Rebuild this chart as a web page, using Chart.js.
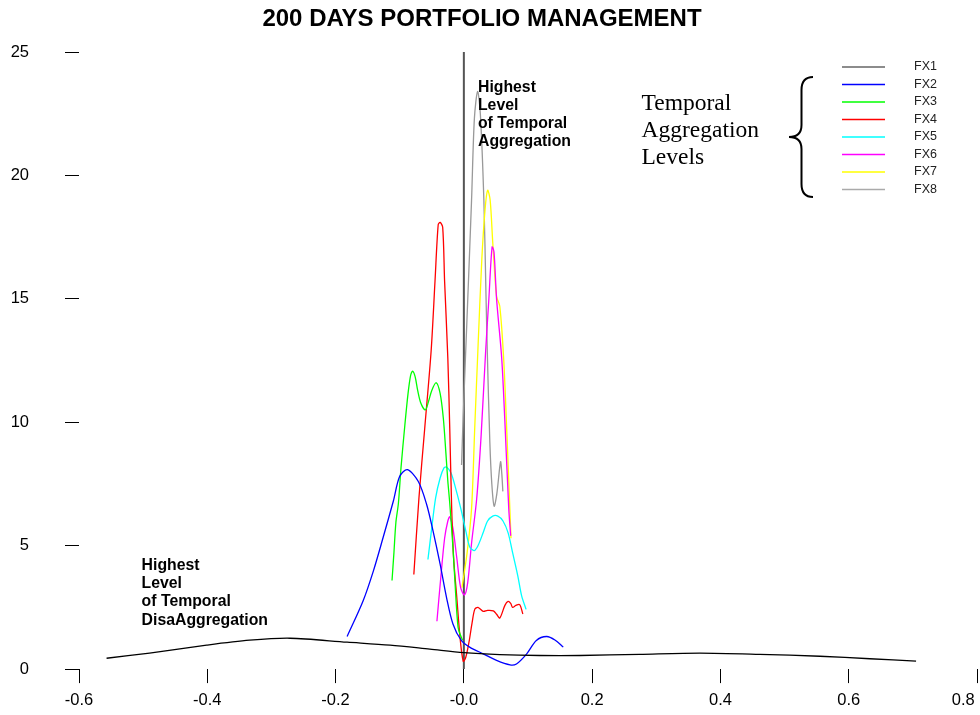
<!DOCTYPE html>
<html>
<head>
<meta charset="utf-8">
<title>200 Days Portfolio Management</title>
<script src="https://cdn.jsdelivr.net/npm/chart.js@4.4.1/dist/chart.umd.min.js"></script>
<style>
  html, body { margin: 0; padding: 0; background: #fff; }
  #wrap { width: 980px; height: 715px; }
</style>
</head>
<body>
<div id="wrap"><canvas id="densityChart" width="980" height="715"></canvas></div>
<script>
// series names and colours
const seriesNames = ['FX1', 'FX2', 'FX3', 'FX4', 'FX5', 'FX6', 'FX7', 'FX8'];
const seriesColors = ['#000000', '#0000ff', '#00ff00', '#ff0000', '#00ffff', '#ff00ff', '#ffff00', '#999999'];

// density estimates
const fx1X = [-0.557, -0.490, -0.401, -0.334, -0.271, -0.182, -0.115, -0.053, 0.000, 0.056, 0.118, 0.181, 0.274, 0.368, 0.461, 0.555, 0.633, 0.705];
const fx1Y = [0.44, 0.65, 0.97, 1.17, 1.25, 1.09, 0.97, 0.81, 0.67, 0.59, 0.55, 0.55, 0.60, 0.65, 0.60, 0.52, 0.42, 0.32];

const fx2X = [-0.182, -0.157, -0.141, -0.126, -0.110, -0.100, -0.088, -0.071, -0.058, -0.048, -0.037, -0.027, -0.017, -0.004, 0.009, 0.030, 0.051, 0.072, 0.082, 0.098, 0.113, 0.129, 0.142, 0.155];
const fx2Y = [1.32, 2.77, 3.98, 5.32, 6.80, 7.81, 8.08, 7.60, 6.67, 5.59, 4.25, 2.90, 1.83, 1.16, 0.89, 0.62, 0.35, 0.17, 0.21, 0.62, 1.16, 1.32, 1.18, 0.89];

const fx3X = [-0.112, -0.109, -0.106, -0.102, -0.098, -0.092, -0.087, -0.083, -0.080, -0.076, -0.072, -0.067, -0.060, -0.055, -0.050, -0.043, -0.037, -0.032, -0.028, -0.025, -0.022, -0.017, -0.014, -0.009, -0.004, -0.002];
const fx3Y = [3.59, 4.72, 5.93, 6.73, 8.15, 9.88, 11.17, 11.90, 12.07, 11.85, 11.29, 10.77, 10.50, 10.85, 11.29, 11.60, 11.17, 10.16, 8.75, 7.62, 6.73, 4.92, 3.59, 1.69, 1.29, 1.17];

const fx4X = [-0.078, -0.070, -0.061, -0.051, -0.045, -0.040, -0.037, -0.033, -0.030, -0.025, -0.022, -0.019, -0.016, -0.011, -0.006, -0.001, 0.003, 0.008, 0.013, 0.017, 0.022, 0.030, 0.037, 0.046, 0.051, 0.056, 0.064, 0.069, 0.073, 0.076, 0.081, 0.087, 0.092];
const fx4Y = [3.83, 6.94, 9.76, 12.9, 15.7, 18.0, 18.1, 17.9, 15.7, 12.6, 9.76, 6.53, 4.52, 2.90, 1.29, 0.32, 0.48, 1.09, 1.90, 2.42, 2.50, 2.34, 2.38, 2.36, 2.22, 2.07, 2.58, 2.74, 2.66, 2.50, 2.58, 2.61, 2.23];

const fx5X = [-0.056, -0.050, -0.044, -0.037, -0.031, -0.027, -0.020, -0.013, -0.005, 0.003, 0.009, 0.016, 0.022, 0.030, 0.037, 0.045, 0.053, 0.061, 0.069, 0.076, 0.084, 0.090, 0.097];
const fx5Y = [4.44, 5.73, 6.94, 7.74, 8.15, 8.19, 7.94, 7.34, 6.53, 5.60, 4.96, 4.80, 5.00, 5.52, 6.00, 6.20, 6.20, 6.00, 5.52, 4.72, 3.79, 2.98, 2.42];

const fx6X = [-0.042, -0.036, -0.030, -0.025, -0.022, -0.017, -0.011, -0.005, 0.001, 0.006, 0.012, 0.020, 0.027, 0.034, 0.039, 0.044, 0.047, 0.051, 0.059, 0.064, 0.070, 0.073];
const fx6Y = [1.94, 3.70, 5.30, 6.00, 6.17, 5.70, 4.50, 3.30, 3.00, 3.50, 5.10, 6.90, 9.50, 12.9, 15.0, 17.1, 16.9, 15.0, 12.6, 10.0, 6.5, 5.4];

const fx7X = [-0.003, 0.005, 0.012, 0.017, 0.022, 0.028, 0.033, 0.037, 0.041, 0.045, 0.051, 0.056, 0.062, 0.067, 0.0717, 0.0735];
const fx7Y = [3.3, 4.7, 6.5, 9.8, 13.0, 16.6, 18.6, 19.4, 19.0, 17.3, 15.1, 14.7, 12.6, 9.6, 6.5, 5.3];

const fx8X = [-0.0036, -0.0011, 0.0055, 0.0120, 0.0164, 0.0214, 0.0257, 0.0312, 0.0343, 0.0366, 0.0405, 0.0436, 0.0472, 0.0514, 0.0572, 0.0592, 0.0608];
const fx8Y = [8.27, 10.2, 14.6, 19.0, 22.3, 23.4, 22.5, 19.0, 15.4, 12.8, 9.2, 7.5, 6.6, 7.1, 8.4, 7.9, 7.2];

// vertical reference line at zero
const zeroLineX = [0, 0];
const zeroLineY = [0, 25];

// axes
const xTicks = [-0.6, -0.4, -0.2, 0, 0.2, 0.4, 0.6, 0.8];
const xTickLabels = ['-0.6', '-0.4', '-0.2', '-0.0', '0.2', '0.4', '0.6', '0.8\u2007\u2007\u2007'];
const yTicks = [0, 5, 10, 15, 20, 25];

// texts
const titleText = '200 DAYS PORTFOLIO MANAGEMENT';
const noteTop = ['Highest', 'Level', 'of Temporal', 'Aggregation'];
const noteBottom = ['Highest', 'Level', 'of Temporal', 'DisaAggregation'];
const legendHeading = ['Temporal', 'Aggregation', 'Levels'];

const seriesX = [fx1X, fx2X, fx3X, fx4X, fx5X, fx6X, fx7X, fx8X];
const seriesY = [fx1Y, fx2Y, fx3Y, fx4Y, fx5Y, fx6Y, fx7Y, fx8Y];

function toPoints(xs, ys) {
    return xs.map((x, i) => ({ x: x, y: ys[i] }));
}

const datasets = seriesNames.map((name, i) => ({
    label: name,
    data: toPoints(seriesX[i], seriesY[i]),
    borderColor: seriesColors[i],
    borderWidth: 1.3,
    tension: 0.3
}));
datasets.push({
    label: '',
    data: toPoints(zeroLineX, zeroLineY),
    borderColor: '#555555',
    borderWidth: 2,
    tension: 0
});

const sansFont = '"Liberation Sans", Arial, Helvetica, sans-serif';

// title, legend, brace and notes
const overlayPlugin = {
    id: 'overlay',
    afterDraw(chart) {
        const ctx = chart.ctx;
        const xs = chart.scales.x;
        const ys = chart.scales.y;
        ctx.save();
        ctx.fillStyle = '#000';

        ctx.font = 'bold 24px ' + sansFont;
        ctx.textAlign = 'center';
        ctx.textBaseline = 'middle';
        ctx.fillText(titleText, 482, 19);

        ctx.font = 'bold 15.8px ' + sansFont;
        ctx.textAlign = 'left';
        ctx.textBaseline = 'alphabetic';
        let nx = xs.getPixelForValue(0.022);
        let ny = ys.getPixelForValue(23.36);
        noteTop.forEach((t, i) => ctx.fillText(t, nx, ny + i * 18));
        nx = xs.getPixelForValue(-0.5024);
        ny = ys.getPixelForValue(4.02);
        noteBottom.forEach((t, i) => ctx.fillText(t, nx, ny + i * 18.3));

        // legend
        ctx.font = '12.5px ' + sansFont;
        ctx.textBaseline = 'middle';
        seriesNames.forEach((name, i) => {
            const y = 67 + i * 17.5;
            ctx.strokeStyle = i === 0 ? '#666666' : (i === 7 ? '#aaaaaa' : seriesColors[i]);
            ctx.lineWidth = 1.5;
            ctx.beginPath();
            ctx.moveTo(842, y);
            ctx.lineTo(885, y);
            ctx.stroke();
            ctx.fillStyle = '#222';
            ctx.fillText(name, 914, y);
        });

        ctx.fillStyle = '#000';
        ctx.font = '23.5px "Liberation Serif", "Times New Roman", serif';
        ctx.textBaseline = 'alphabetic';
        legendHeading.forEach((t, i) => ctx.fillText(t, 641.5, 109.5 + i * 27));

        // curly brace
        ctx.strokeStyle = '#000';
        ctx.lineWidth = 2;
        ctx.beginPath();
        ctx.moveTo(813, 77);
        ctx.quadraticCurveTo(801.5, 77, 801.5, 90);
        ctx.lineTo(801.5, 125);
        ctx.quadraticCurveTo(801.5, 137, 789, 137);
        ctx.quadraticCurveTo(801.5, 137, 801.5, 149);
        ctx.lineTo(801.5, 184);
        ctx.quadraticCurveTo(801.5, 197, 813, 197);
        ctx.stroke();
        ctx.restore();
    }
};

new Chart(document.getElementById('densityChart'), {
    type: 'scatter',
    data: { datasets: datasets },
    options: {
        responsive: false,
        animation: false,
        devicePixelRatio: 1,
        showLine: true,
        elements: {
            point: { radius: 0, hoverRadius: 0 },
            line: { fill: false }
        },
        layout: { padding: { top: 52, right: 3, left: 0, bottom: 0 } },
        plugins: {
            legend: { display: false },
            title: { display: false },
            tooltip: { enabled: false }
        },
        scales: {
            x: {
                type: 'linear',
                min: -0.6,
                max: 0.8,
                afterBuildTicks: s => { s.ticks = xTicks.map(v => ({ value: v })); },
                afterFit: s => { s.height = 43; s.paddingRight = 0; s.paddingLeft = 0; },
                grid: { drawOnChartArea: false, drawTicks: true, tickLength: 14, color: '#000', lineWidth: 1 },
                border: { display: false },
                ticks: {
                    padding: 7,
                    autoSkip: false,
                    maxRotation: 0,
                    color: '#000',
                    font: { size: 16.5, family: sansFont },
                    callback: (v, i) => xTickLabels[i]
                }
            },
            y: {
                type: 'linear',
                min: 0,
                max: 25,
                afterBuildTicks: s => { s.ticks = yTicks.map(v => ({ value: v })); },
                afterFit: s => { s.width = 79; },
                grid: { drawOnChartArea: false, drawTicks: true, tickLength: 14, color: '#000', lineWidth: 1 },
                border: { display: false },
                ticks: {
                    padding: 36,
                    color: '#000',
                    font: { size: 16.5, family: sansFont },
                    callback: v => String(v)
                }
            }
        }
    },
    plugins: [overlayPlugin]
});
</script>
</body>
</html>
